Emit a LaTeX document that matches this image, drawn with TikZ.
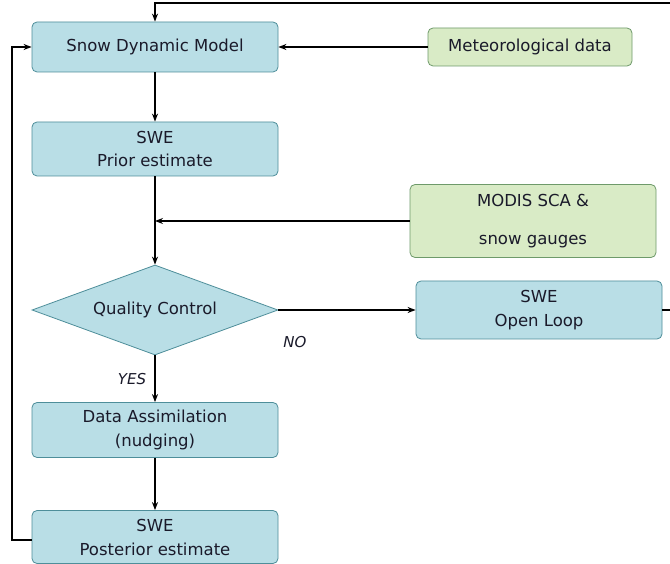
\documentclass[tikz,border=0pt]{standalone}
\usepackage{fontspec}
\setmainfont{DejaVu Sans}
\usetikzlibrary{shapes.geometric,arrows.meta}
\definecolor{bluefill}{HTML}{B9DEE6}
\definecolor{blueline}{HTML}{4E8E9A}
\definecolor{greenfill}{HTML}{D9EBC6}
\definecolor{greenline}{HTML}{6E9A6A}
\definecolor{txt}{HTML}{1A1A2A}
\begin{document}
\begin{tikzpicture}[x=1pt,y=-1pt,
  bluebox/.style={draw=blueline,line width=0.8pt,fill=bluefill,rounded corners=5pt,minimum width=246pt,align=center,text=txt,font=\fontsize{16.5}{22}\selectfont},
  greenbox/.style={draw=greenline,line width=0.8pt,fill=greenfill,rounded corners=5pt,align=center,text=txt,font=\fontsize{16.5}{22}\selectfont},
  decision/.style={diamond,draw=blueline,line width=0.8pt,fill=bluefill,aspect=2.73,inner sep=0pt,minimum width=246pt,minimum height=90pt,text=txt,font=\fontsize{16.5}{20}\selectfont},
  conn/.style={line width=1.3pt,draw=black},
  arr/.style={conn,-{Stealth[length=8pt,width=6pt]}},
  lbl/.style={font=\fontsize{15}{18}\selectfont\itshape,text=txt}]
\useasboundingbox (0,0) rectangle (670,564);
\fill[white] (0,0) rectangle (670,564);

\node[bluebox,minimum height=50pt] (sdm) at (155,47) {Snow Dynamic Model};
\node[greenbox,minimum width=204pt,minimum height=38pt] (met) at (530,47) {Meteorological data};
\node[bluebox,minimum height=54pt,inner sep=2pt] (prior) at (155,149) {SWE\\[1pt]Prior estimate};
\node[greenbox,minimum width=246pt,minimum height=73pt] (modis) at (533,221) {MODIS SCA \&\\[16pt]snow gauges};
\node[decision] (qc) at (155,310) {Quality Control};
\node[bluebox,minimum height=58pt,inner sep=2pt] (ol) at (539,310) {SWE\\[2pt]Open Loop};
\node[bluebox,minimum height=55pt,inner sep=2pt] (da) at (155,430) {Data Assimilation\\[2pt](nudging)};
\node[bluebox,minimum height=53pt,inner sep=2pt] (post) at (155,537) {SWE\\[2pt]Posterior estimate};

\coordinate (topR) at (670,3);
\coordinate (topL) at (155,3);
\coordinate (olR) at (670,310);
\coordinate (leftB) at (12,540);
\coordinate (leftT) at (12,47);
\coordinate (merge) at (155,221);

\draw[arr] (topR) -- (topL) -- (sdm.north);
\draw[arr] (met.west) -- (sdm.east);
\draw[arr] (sdm.south) -- (prior.north);
\draw[arr] (prior.south) -- (qc.north);
\draw[arr] (modis.west |- merge) -- (merge);
\draw[arr] (qc.east) -- (ol.west);
\draw[conn] (ol.east) -- (olR);
\draw[arr] (qc.south) -- (da.north);
\draw[arr] (da.south) -- (post.north);
\draw[arr] (post.west |- leftB) -- (leftB) -- (leftT) -- (sdm.west);

\node[lbl] (no) at (295,342) {NO};
\node[lbl] (yes) at (132,379) {YES};
\end{tikzpicture}
\end{document}
